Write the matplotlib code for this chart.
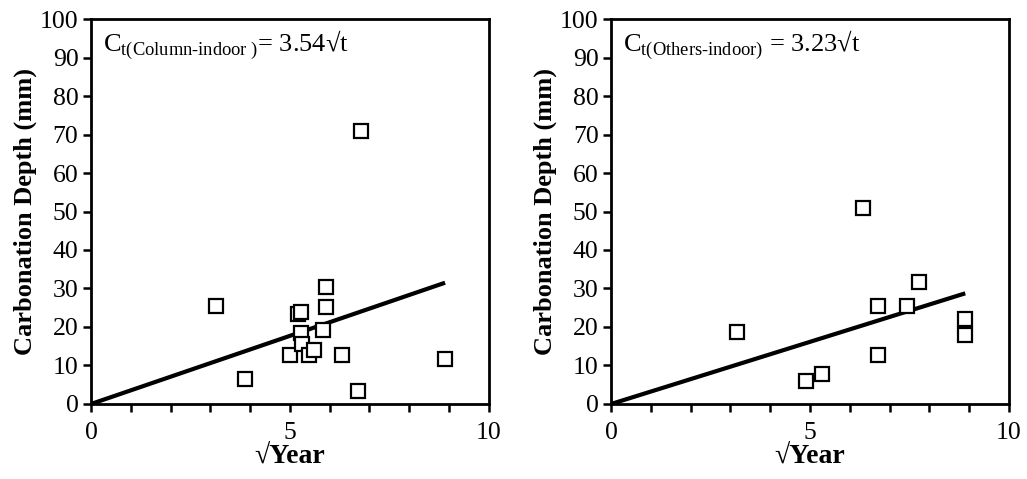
import numpy as np
import matplotlib
matplotlib.use("Agg")
import matplotlib.pyplot as plt

plt.rcParams['font.family'] = ['Liberation Serif', 'DejaVu Serif']
plt.rcParams['mathtext.fontset'] = 'custom'
plt.rcParams['mathtext.rm'] = 'Liberation Serif'

# Column-indoor data (sqrt year, depth mm)
col_x = [3.15, 3.86, 4.99, 5.20, 5.28, 5.28, 5.30, 5.49, 5.60, 5.83, 5.91, 5.91, 6.32, 6.70, 6.78, 8.89]
col_y = [25.5, 6.5, 12.7, 23.4, 24.0, 18.4, 15.5, 12.7, 14.1, 19.1, 30.5, 25.1, 12.7, 3.3, 70.9, 11.7]
col_k = 3.54

# Others-indoor data
oth_x = [3.17, 4.91, 5.30, 6.32, 6.70, 6.70, 7.44, 7.75, 8.89, 8.89]
oth_y = [18.8, 6.1, 7.8, 50.8, 25.4, 12.7, 25.4, 31.7, 22.0, 17.9]
oth_k = 3.23

fit_end = 8.9

fig = plt.figure(figsize=(10.27, 4.79), dpi=100)
ax1 = fig.add_axes([0.0886, 0.1566, 0.3874, 0.8037])
ax2 = fig.add_axes([0.5950, 0.1566, 0.3875, 0.8037])

panels = [
    (ax1, col_x, col_y, col_k, r'C$_{\text{t(Column-indoor )}}$= 3.54√t'),
    (ax2, oth_x, oth_y, oth_k, r'C$_{\text{t(Others-indoor)}}$ = 3.23√t'),
]

for ax, xs, ys, k, label in panels:
    xf = np.array([0, fit_end])
    ax.plot(xf, k * xf, color='black', lw=3, solid_capstyle='butt', zorder=2)
    ax.plot(xs, ys, ls='none', marker='s', ms=10, mfc='white', mec='black',
            mew=1.6, zorder=3)
    ax.set_xlim(0, 10)
    ax.set_ylim(0, 100)
    ax.set_xticks([0, 5, 10])
    ax.set_xticks(np.arange(0, 11, 1), minor=True)
    ax.set_yticks(np.arange(0, 101, 10))
    ax.tick_params(axis='both', which='both', direction='out', length=6, width=1.8,
                   labelsize=18.5)
    ax.tick_params(axis='x', which='both', pad=7)
    ax.tick_params(axis='y', pad=3)
    for s in ax.spines.values():
        s.set_linewidth(2)
    ax.set_xlabel('√Year', fontsize=20, fontweight='bold', labelpad=0)
    ax.set_ylabel('Carbonation Depth (mm)', fontsize=19, fontweight='bold', labelpad=2)
    ax.text(0.03, 0.975, label, transform=ax.transAxes, fontsize=19,
            va='top', ha='left')

fig.savefig('out.png', dpi=100)
